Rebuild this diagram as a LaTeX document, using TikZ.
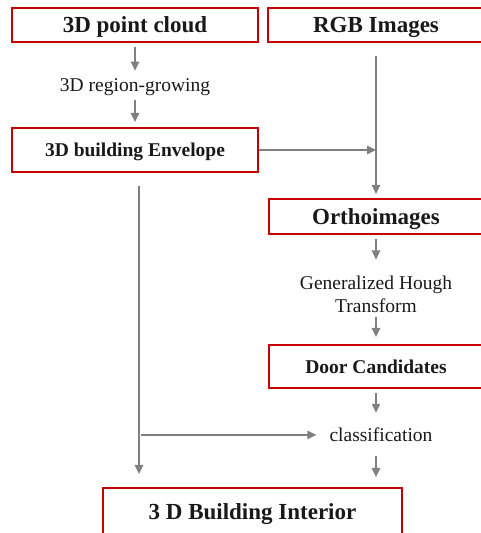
\documentclass[tikz,border=0pt]{standalone}
\usepackage{fontspec}
\setmainfont{Liberation Serif}
\usetikzlibrary{arrows.meta}
\definecolor{boxred}{HTML}{C80000}
\definecolor{flowgray}{HTML}{808080}

\begin{document}
\begin{tikzpicture}[
  x=1pt, y=-1pt,
  every box/.style={draw=boxred, line width=2.2pt, text depth=0pt, text=black!90},
  big box/.style={every box, font=\fontsize{23}{27}\selectfont\bfseries, text height=15pt},
  small box/.style={every box, font=\fontsize{19.5}{23}\selectfont\bfseries, text height=13pt},
  step label/.style={inner sep=0pt, text=black!90, font=\fontsize{19.5}{23}\selectfont},
  flow/.style={draw=flowgray, line width=1.3pt, -{Triangle[length=9pt,width=8.5pt]}},
]
\useasboundingbox (0,0) rectangle (480,533);

% boxes
\node[big box, minimum width=246pt, minimum height=34pt] (cloud) at (135,25) {3D point cloud};
\node[big box, minimum width=216pt, minimum height=34pt] (rgb) at (376,25) {RGB Images};
\node[small box, minimum width=246pt, minimum height=44pt] (env) at (135,150) {3D building Envelope};
\node[big box, minimum width=214pt, minimum height=35pt] (ortho) at (376,216.5) {Orthoimages};
\node[small box, minimum width=214pt, minimum height=43pt] (door) at (376,366.5) {Door Candidates};
\node[big box, minimum width=299pt, minimum height=48pt] (interior) at (252.5,512) {3 D Building Interior};

% processing steps
\node[step label, anchor=base] (grow) at (135,91.7) {3D region-growing};
\node[step label, align=center] (hough) at (376,294) {Generalized Hough\\Transform};
\node[step label, anchor=base] (classify) at (381,441.7) {classification};

% flow
\foreach \a/\b/\s/\e in {cloud/grow/4pt/8pt, grow/env/4pt/5pt, ortho/hough/4pt/16pt,
                         hough/door/4pt/7pt, door/classify/4pt/15pt}
  \draw[flow, shorten <=\s, shorten >=\e] (\a.south) -- (\a.south |- \b.north);
\draw[flow, shorten <=13pt, shorten >=4pt] (rgb.south) -- (ortho.north);
\draw[flow] (env.east) -- (env.east -| rgb.south);
\coordinate (drop) at ([xshift=4pt]env.south);
\draw[flow, shorten <=13pt, shorten >=13pt] (drop) -- (drop |- interior.north);
\draw[flow, shorten <=2pt, shorten >=13pt] (drop |- classify.west) -- (classify.west);
\draw[flow, shorten <=14pt, shorten >=10pt] (door.south |- classify.south) -- (door.south |- interior.north);
\end{tikzpicture}
\end{document}
